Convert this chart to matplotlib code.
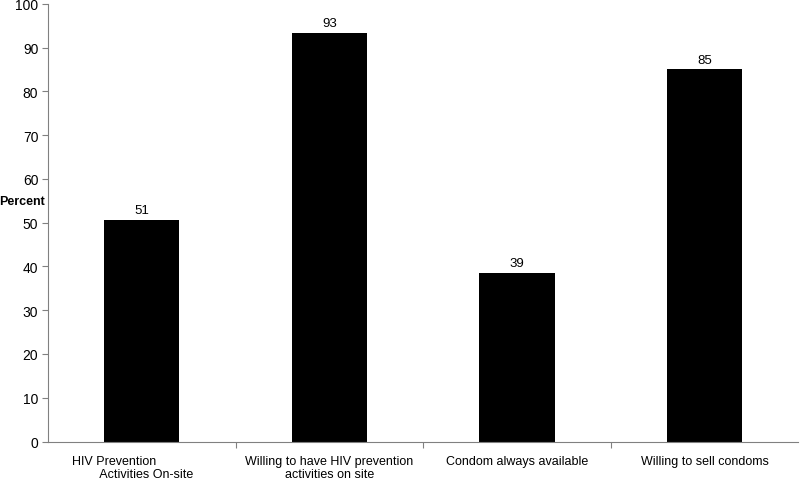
import matplotlib.pyplot as plt

plt.rcParams["font.family"] = ["Liberation Sans", "DejaVu Sans"]

# Survey results, percent of sites
categories = [
    "HIV Prevention\n        Activities On-site",
    "Willing to have HIV prevention\nactivities on site",
    "Condom always available",
    "Willing to sell condoms",
]
values = [50.7, 93.4, 38.6, 85.1]
value_labels = ["51", "93", "39", "85"]

fig, ax = plt.subplots(figsize=(8, 4.81), dpi=100)
fig.subplots_adjust(left=0.06, right=0.998, top=0.99, bottom=0.08)

x = range(len(categories))
bars = ax.bar(x, values, width=0.4, color="black")

for bar, lab in zip(bars, value_labels):
    ax.text(bar.get_x() + bar.get_width() / 2, bar.get_height() + 0.8, lab,
            ha="center", va="bottom", fontsize=9.5)

ax.set_xlim(-0.5, len(categories) - 0.5)
ax.set_ylim(0, 100)
ax.set_yticks(range(0, 101, 10))
ax.tick_params(axis="y", labelsize=10, length=4, color="#808080", pad=3)

# category ticks sit between the bars, labels at bar centres
ax.set_xticks([i + 0.5 for i in range(len(categories) - 1)])
ax.set_xticklabels([])
ax.tick_params(axis="x", length=4, color="#808080")
for i, cat in enumerate(categories):
    xpos = i - 0.05 if i == 0 else i
    ax.text(xpos, -3, cat, ha="center", va="top", fontsize=9,
            multialignment="left" if i == 0 else "center")

ax.set_ylabel("Percent", rotation=0, fontweight="bold", fontsize=9)
ax.yaxis.set_label_coords(-0.035, 0.535)

for side in ["top", "right"]:
    ax.spines[side].set_visible(False)
for side in ["left", "bottom"]:
    ax.spines[side].set_color("#808080")

plt.savefig("out.png")
